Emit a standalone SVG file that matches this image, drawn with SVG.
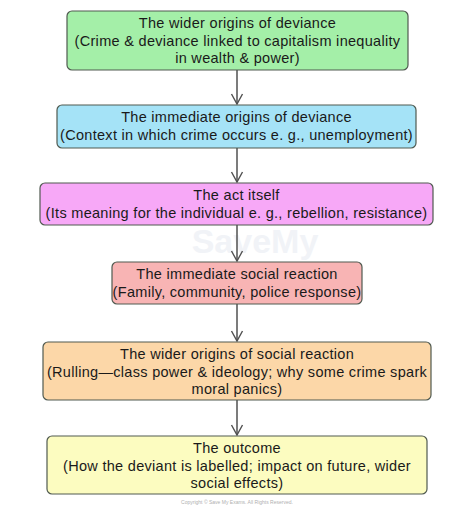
<svg xmlns="http://www.w3.org/2000/svg" width="474" height="511" viewBox="0 0 474 511">
<defs>
<marker id="arr" viewBox="0 0 14 14" refX="12" refY="7" markerWidth="14" markerHeight="14" markerUnits="userSpaceOnUse" orient="auto">
<path d="M2,1.5 L12,7 L2,12.5" fill="none" stroke="#505050" stroke-width="1.4"/>
</marker>
<style>
.box{stroke:#505a50;stroke-width:1.2}
.t{font-family:"Liberation Sans","DejaVu Sans",sans-serif;font-size:14.5px;letter-spacing:0.3px;fill:#1a1a1a;text-anchor:middle}
.c{stroke:#505050;stroke-width:1.5;fill:none}
</style>
</defs>
<rect width="474" height="511" fill="#ffffff"/>
<text x="255" y="253" font-family="Liberation Sans, sans-serif" font-size="34" font-weight="bold" fill="#f1f3f7" text-anchor="middle">SaveMy</text>
<g id="connectors">
<line class="c" x1="237" y1="70" x2="237" y2="104" marker-end="url(#arr)"/>
<line class="c" x1="237" y1="148" x2="237" y2="182" marker-end="url(#arr)"/>
<line class="c" x1="237" y1="225" x2="237" y2="261" marker-end="url(#arr)"/>
<line class="c" x1="237" y1="304" x2="237" y2="341" marker-end="url(#arr)"/>
<line class="c" x1="237" y1="400" x2="237" y2="435" marker-end="url(#arr)"/>
</g>
<g id="n1">
<rect class="box" x="67" y="11" width="341" height="59" rx="5" fill="#a4efa8"/>
<text class="t" x="237.5" y="28">The wider origins of deviance</text>
<text class="t" x="237.5" y="45.5">(Crime &amp; deviance linked to capitalism inequality</text>
<text class="t" x="237.5" y="63">in wealth &amp; power)</text>
</g>
<g id="n2">
<rect class="box" x="57" y="105" width="359" height="43" rx="5" fill="#a5e3f7"/>
<text class="t" x="236.5" y="122">The immediate origins of deviance</text>
<text class="t" x="236.5" y="139.5">(Context in which crime occurs e. g., unemployment)</text>
</g>
<g id="n3">
<rect class="box" x="40" y="183" width="393" height="42" rx="5" fill="#f7a8f7"/>
<text class="t" x="236.5" y="200">The act itself</text>
<text class="t" x="236.5" y="217.5">(Its meaning for the individual e. g., rebellion, resistance)</text>
</g>
<g id="n4">
<rect class="box" x="112" y="262" width="250" height="42" rx="5" fill="#f8b4b4"/>
<text class="t" x="237" y="279">The immediate social reaction</text>
<text class="t" x="237" y="296.5">(Family, community, police response)</text>
</g>
<g id="n5">
<rect class="box" x="43" y="342" width="388" height="58" rx="5" fill="#fcd7a8"/>
<text class="t" x="237" y="359">The wider origins of social reaction</text>
<text class="t" x="237" y="376.5">(Rulling—class power &amp; ideology; why some crime spark</text>
<text class="t" x="237" y="394">moral panics)</text>
</g>
<g id="n6">
<rect class="box" x="47" y="436" width="380" height="58" rx="5" fill="#fcfcc0"/>
<text class="t" x="237" y="453">The outcome</text>
<text class="t" x="237" y="470.5">(How the deviant is labelled; impact on future, wider</text>
<text class="t" x="237" y="488">social effects)</text>
</g>
<text x="237" y="504" font-family="Liberation Sans, sans-serif" font-size="5" fill="#b0b0b0" text-anchor="middle">Copyright © Save My Exams. All Rights Reserved.</text>
</svg>
